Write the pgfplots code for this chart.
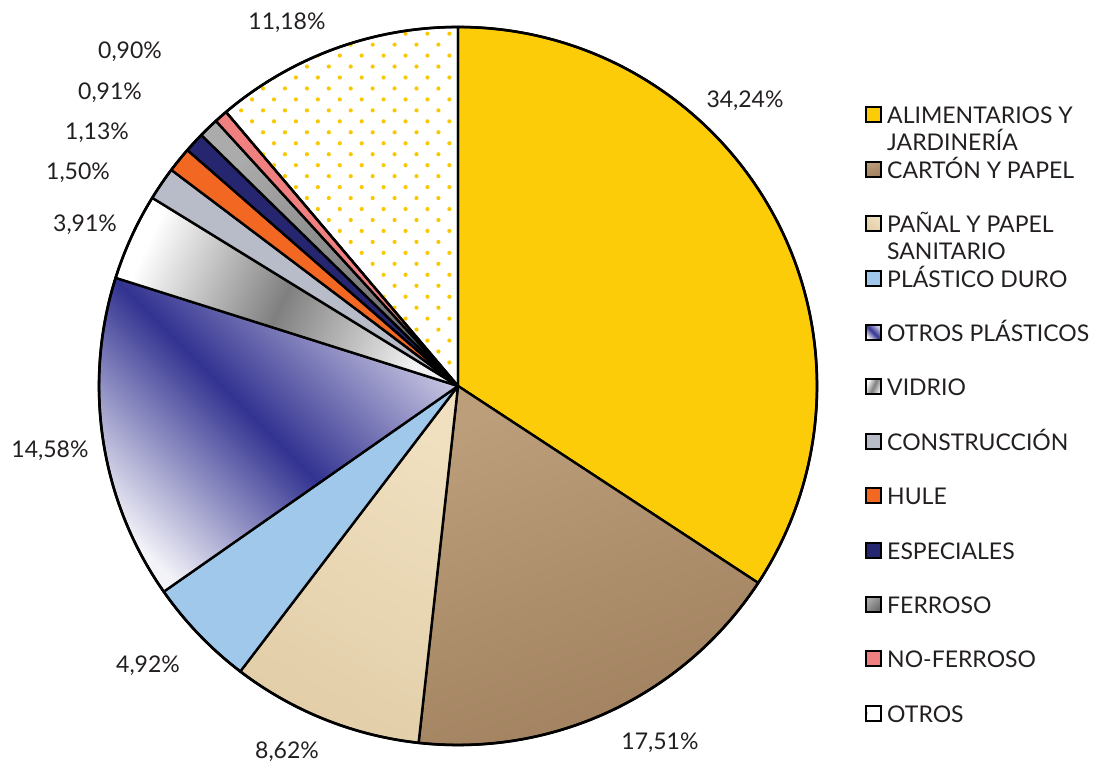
\documentclass[border=0pt]{standalone}
\usepackage{pgfplots}
\pgfplotsset{compat=1.18}
\usepackage{pgfplotstable}
\usepackage{fontspec}
\setmainfont{Lato}
\usetikzlibrary{patterns.meta}

\definecolor{alim}{RGB}{252,204,8}
\definecolor{carton}{RGB}{188,158,122}
\definecolor{cartonosc}{RGB}{160,128,94}
\definecolor{panal}{RGB}{240,224,192}
\definecolor{panalosc}{RGB}{226,206,168}
\definecolor{plduro}{RGB}{160,200,234}
\definecolor{navy}{RGB}{50,50,145}
\definecolor{lavanda}{RGB}{205,203,228}
\definecolor{constr}{RGB}{184,187,200}
\definecolor{hule}{RGB}{242,104,34}
\definecolor{especial}{RGB}{38,38,112}
\definecolor{ferroso}{RGB}{150,150,150}
\definecolor{noferroso}{RGB}{240,128,128}
\definecolor{otrosdot}{RGB}{250,200,0}
\definecolor{texto}{RGB}{35,31,32}

% v = porcentaje, lx/ly = posicion de la etiqueta (px desde arriba), s = mostrar
\pgfplotstableread{
v lx ly s
34.24 745 101 1
17.51 660 743 1
8.62 287 752 1
4.92 148 666 1
14.58 50 451 1
3.91 85 225 1
1.50 78 173 1
1.13 97 133 1
0.91 110 93 1
0.90 130 52 1
0.60 0 0 0
11.18 287 23 1
}\residuos

\tikzset{
  slice0/.style={fill=alim},
  slice1/.style={top color=carton, bottom color=cartonosc, shading angle=20},
  slice2/.style={top color=panal, bottom color=panalosc, shading angle=-30},
  slice3/.style={fill=plduro},
  slice4/.style={top color=lavanda, bottom color=white!94!navy, middle color=navy, shading angle=-45},
  slice5/.style={top color=white, bottom color=white!95!black, middle color=black!50, shading angle=65},
  slice6/.style={fill=constr},
  slice7/.style={fill=hule},
  slice8/.style={fill=especial},
  slice9/.style={top color=ferroso!80!white, bottom color=ferroso!70!black, shading angle=45},
  slice10/.style={fill=noferroso},
  slice11/.style={pattern={Dots[radius=2.1pt, distance=15.5pt, angle=45]}, pattern color=otrosdot},
}

\begin{document}
\begin{tikzpicture}
\begin{axis}[
  x=1pt, y=1pt,
  xmin=0, xmax=1098, ymin=0, ymax=768,
  hide axis, clip=false,
  scale only axis,
]
\pgfplotsextra{
  \path (axis cs:0,0) rectangle (axis cs:1098,768);
  \pgfplotstablegetrowsof{\residuos}
  \pgfmathtruncatemacro\ultimo{\pgfplotsretval-1}
  \xdef\acc{90}
  \foreach \i in {0,...,\ultimo}{
    \pgfplotstablegetelem{\i}{v}\of\residuos \let\v\pgfplotsretval
    \pgfmathsetmacro\b{\acc-3.6*\v}
    \path[slice\i, draw=black, line width=2.4pt, line join=round]
      (axis cs:458,382) -- ++(\acc:359pt)
      arc[start angle=\acc, end angle=\b, radius=359pt] -- cycle;
    \xdef\acc{\b}
  }
  \draw[line width=2.6pt] (axis cs:458,382) circle[radius=359pt];
  % etiquetas de porcentaje
  \foreach \i in {0,...,\ultimo}{
    \pgfplotstablegetelem{\i}{v}\of\residuos \let\v\pgfplotsretval
    \pgfplotstablegetelem{\i}{lx}\of\residuos \let\lx\pgfplotsretval
    \pgfplotstablegetelem{\i}{ly}\of\residuos \let\ly\pgfplotsretval
    \pgfplotstablegetelem{\i}{s}\of\residuos \let\s\pgfplotsretval
    \ifnum\s=1
      \node[text=texto, font=\fontsize{23}{27}\selectfont, inner sep=0pt]
        at (axis cs:\lx,768-\ly)
        {\pgfmathprintnumber[fixed, fixed zerofill, precision=2, use comma, assume math mode=true]{\v}\%};
    \fi
  }
  % leyenda
  \foreach \t/\u [count=\k from 0] in {ALIMENTARIOS Y/JARDINERÍA, CARTÓN Y PAPEL/, PAÑAL Y PAPEL/SANITARIO,
      PLÁSTICO DURO/, OTROS PLÁSTICOS/, VIDRIO/, CONSTRUCCIÓN/, HULE/, ESPECIALES/, FERROSO/, NO-FERROSO/, OTROS/}{
    \pgfmathsetmacro\yc{768-(115+54.4*\k)}
    \path[slice\k, draw=black, line width=2pt]
      (axis cs:866,\yc-7.5) rectangle (axis cs:881,\yc+7.5);
    \node[text=texto, font=\fontsize{23}{27}\selectfont, anchor=base west, inner sep=0pt]
      at (axis cs:887,\yc-9) {\t};
    \node[text=texto, font=\fontsize{23}{27}\selectfont, anchor=base west, inner sep=0pt]
      at (axis cs:887,\yc-36) {\u};
  }
}
\end{axis}
\end{tikzpicture}
\end{document}
